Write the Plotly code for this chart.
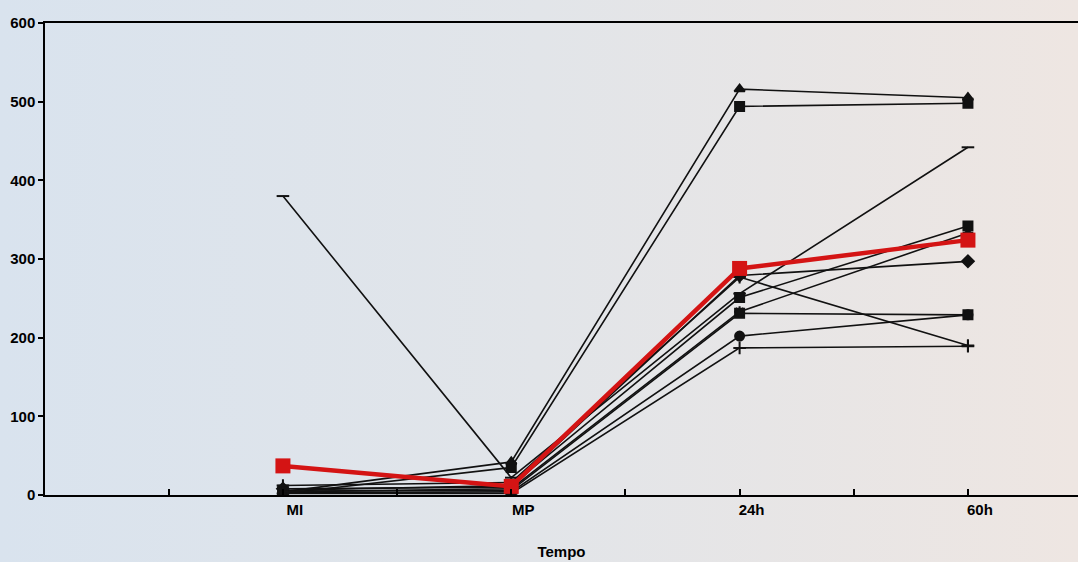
import base64
import plotly.graph_objects as go

# ---------------- data ----------------
categories = ["MI", "MP", "24h", "60h"]
cat_pos = [0, 1, 2, 3]

s1 = [4, 42, 516, 505]      # triangle
s2 = [2, 35, 494, 498]      # square
s3 = [380, 22, 256, 442]    # dash
s4 = [8, 10, 279, 297]      # diamond
s5 = [5, 6, 231, 229]       # square
s6 = [3, 4, 202, 229]       # circle
s7 = [2, 2, 187, 189]       # plus
s8 = [6, 12, 251, 342]      # square
s9 = [4, 8, 233, 333]       # asterisk
s10 = [12, 16, 277, 190]    # plus
media = [37, 11, 288, 324]  # red mean

y_ticks = [0, 100, 200, 300, 400, 500, 600]

black_series = [
    (s1, "triangle-up"),
    (s2, "square"),
    (s3, "line-ew"),
    (s4, "diamond"),
    (s5, "square"),
    (s6, "circle"),
    (s7, "cross-thin"),
    (s8, "square"),
    (s9, "asterisk"),
    (s10, "cross-thin"),
]

fig = go.Figure()

for vals, sym in black_series:
    fig.add_trace(go.Scatter(
        x=cat_pos, y=vals, mode="lines+markers",
        line=dict(color="#111111", width=1.6),
        marker=dict(symbol=sym, size=9, color="#111111",
                    line=dict(color="#111111", width=2)),
        showlegend=False, hoverinfo="skip"))

fig.add_trace(go.Scatter(
    x=cat_pos, y=media, mode="lines+markers",
    line=dict(color="#d41414", width=4.5),
    marker=dict(symbol="square", size=15, color="#d41414"),
    showlegend=False, hoverinfo="skip"))

# background gradient (photo tint) as an SVG image
svg = ('<svg xmlns="http://www.w3.org/2000/svg" width="1078" height="562">'
       '<defs><linearGradient id="g" x1="0" y1="0" x2="1" y2="0">'
       '<stop offset="0" stop-color="#d9e3ee"/>'
       '<stop offset="0.5" stop-color="#e2e5e9"/>'
       '<stop offset="1" stop-color="#eee6e2"/>'
       '</linearGradient></defs>'
       '<rect width="1078" height="562" fill="url(#g)"/></svg>')
src = "data:image/svg+xml;base64," + base64.b64encode(svg.encode()).decode()

W, H = 1078, 562
L, R, T, B = 45, 0, 23, 67
pw, ph = W - L - R, H - T - B

fig.add_layout_image(dict(
    source=src, xref="paper", yref="paper",
    x=-L / pw, y=1 + T / ph, sizex=W / pw, sizey=H / ph,
    sizing="stretch", layer="below", xanchor="left", yanchor="top"))

tick_vals_x = [-0.5, 0, 0.5, 1, 1.5, 2, 2.5, 3]
tick_text_x = ["", categories[0], "", categories[1], "", categories[2], "", categories[3]]

font_bold = dict(family="Liberation Sans, Arial, sans-serif", size=15,
                 color="black", weight="bold")

fig.update_layout(
    width=W, height=H,
    margin=dict(l=L, r=R, t=T, b=B),
    paper_bgcolor="rgba(0,0,0,0)",
    plot_bgcolor="rgba(0,0,0,0)",
    xaxis=dict(
        range=[-1.042, 3.482],
        tickmode="array", tickvals=tick_vals_x, ticktext=tick_text_x,
        ticks="inside", ticklen=6, tickwidth=1.5, tickcolor="black",
        showline=True, linecolor="black", linewidth=1.5, mirror=True,
        showgrid=False, zeroline=False,
        tickfont=font_bold, ticklabelshift=12,
        title=dict(text="Tempo", font=font_bold, standoff=30),
    ),
    yaxis=dict(
        range=[0, 600],
        tickmode="array", tickvals=y_ticks,
        ticks="outside", ticklen=5, tickwidth=1.5, tickcolor="black",
        showline=True, linecolor="black", linewidth=1.5,
        showgrid=False, zeroline=False,
        tickfont=font_bold,
    ),
)

fig.write_html("out.html",
               config={"displayModeBar": False},
               post_script="document.body.style.margin='0';"
                           "document.body.style.overflow='hidden';")
